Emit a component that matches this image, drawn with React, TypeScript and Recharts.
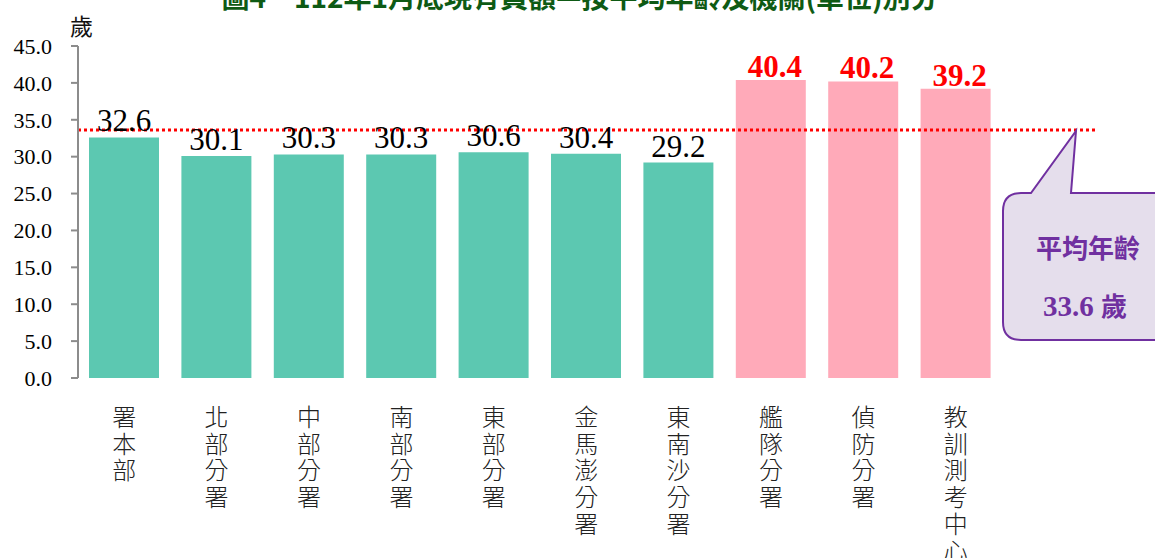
import React from "react";
import {
  BarChart, Bar, XAxis, YAxis, Cell, LabelList, ReferenceLine,
} from "recharts";

const TITLE = "圖4　112年1月底現有員額—按平均年齡及機關(單位)別分";
const UNIT = "歲";
const CATEGORIES = [
  "署本部", "北部分署", "中部分署", "南部分署", "東部分署",
  "金馬澎分署", "東南沙分署", "艦隊分署", "偵防分署", "教訓測考中心",
];
const AGES = [32.6, 30.1, 30.3, 30.3, 30.6, 30.4, 29.2, 40.4, 40.2, 39.2];
const AVG = 33.6;
const Y_TICKS = [0, 5, 10, 15, 20, 25, 30, 35, 40, 45];

const TEAL = "#5cc8b1";
const PINK = "#ffaab9";
const AXIS = "#8c8c8c";
const SERIF = "'Liberation Serif', 'Times New Roman', serif";
const CJK = "'Noto Sans CJK TC', 'Noto Sans', sans-serif";

const data = CATEGORIES.map((name, i) => ({ name, age: AGES[i] }));
const edges = CATEGORIES.map((_, i) => i).concat(CATEGORIES.length);

// category names are written top-to-bottom, one character per line
const VerticalTick = ({ x, y, payload }: any) => {
  const chars = String(payload.value).split("");
  return (
    <text x={x} y={y} textAnchor="middle" fill="#222" fontFamily={CJK} fontWeight={300} fontSize={24}>
      {chars.map((c, i) => (
        <tspan key={i} x={x} dy={i === 0 ? 40 : 26.7}>{c}</tspan>
      ))}
    </text>
  );
};

const ValueLabel = ({ x, y, width, value }: any) => {
  const high = value > AVG;
  return (
    <text
      x={x + width / 2 + (high ? 4 : 0)} y={y - (high ? 3 : 6)} textAnchor="middle"
      fontFamily={SERIF} fontSize={high ? 31 : 31} fontWeight={high ? 700 : 400}
      fill={high ? "#ff0000" : "#000"}
    >
      {value.toFixed(1)}
    </text>
  );
};

const AvgLine = ({ x1, y1, x2 }: any) => (
  <g>
    <defs>
      <filter id="avgShadow" x="-5%" y="-200%" width="110%" height="500%">
        <feGaussianBlur stdDeviation="2.5" />
      </filter>
    </defs>
    <line x1={x1} y1={y1 + 6} x2={x2 + 96} y2={y1 + 6} stroke="#000" strokeOpacity={0.13}
      strokeWidth={5} filter="url(#avgShadow)" />
    <line x1={x1} y1={y1} x2={x2 + 96} y2={y1} stroke="#ff0000" strokeWidth={3} strokeDasharray="3 3" />
  </g>
);

export default function App() {
  return (
    <div style={{ position: "fixed", left: 0, top: 0, width: 1155, height: 558, overflow: "hidden", background: "#fff" }}>
      <div style={{
        position: "absolute", left: 0, width: 1160, top: -24, textAlign: "center",
        fontFamily: CJK, fontWeight: 700, fontSize: 28, color: "#0e5a14", whiteSpace: "nowrap",
      }}>{TITLE}</div>
      <div style={{ position: "absolute", left: 70, top: 8, fontFamily: CJK, fontSize: 23, color: "#111" }}>{UNIT}</div>

      <BarChart width={1155} height={558} data={data} margin={{ top: 46, right: 153, bottom: 0, left: 0 }}>
        <XAxis xAxisId="edge" type="number" domain={[0, CATEGORIES.length]} ticks={edges} tick={false}
          height={0} tickSize={8} stroke={AXIS} axisLine={{ stroke: AXIS, strokeWidth: 2 }} tickLine={{ stroke: AXIS, strokeWidth: 2 }} />
        <XAxis xAxisId="cat" dataKey="name" height={180} interval={0} axisLine={false} tickLine={false}
          tick={<VerticalTick />} />
        <YAxis width={78} domain={[0, 45]} ticks={Y_TICKS} interval={0} tickFormatter={(v: number) => v.toFixed(1)}
          tickSize={7} tickMargin={19} axisLine={{ stroke: AXIS, strokeWidth: 2 }} tickLine={{ stroke: AXIS, strokeWidth: 2 }}
          tick={{ fill: "#000", fontFamily: SERIF, fontSize: 22 }} />
        <Bar xAxisId="cat" dataKey="age" barSize={70} isAnimationActive={false}>
          {data.map((d, i) => (
            <Cell key={i} fill={d.age > AVG ? PINK : TEAL} />
          ))}
          <LabelList dataKey="age" content={<ValueLabel />} />
        </Bar>
        <ReferenceLine xAxisId="cat" y={AVG} shape={<AvgLine />} />
      </BarChart>

      <svg width={1155} height={558} style={{ position: "absolute", left: 0, top: 0, pointerEvents: "none" }}>
        <path
          d="M1021,193 L1031,193 L1076,131 L1071,193 L1170,193 L1170,340 L1021,340 Q1003,340 1003,322 L1003,211 Q1003,193 1021,193 Z"
          fill="#e5deec" stroke="#7030a0" strokeWidth={2}
        />
        <text x={1036} y={258} fontFamily={CJK} fontWeight={700} fontSize={26} fill="#7030a0">平均年齡</text>
        <text x={1043} y={316} fill="#7030a0" fontWeight={700} fontSize={29}>
          <tspan fontFamily={SERIF}>{AVG.toFixed(1)} </tspan>
          <tspan fontFamily={CJK} fontSize={26}>{UNIT}</tspan>
        </text>
      </svg>
    </div>
  );
}
